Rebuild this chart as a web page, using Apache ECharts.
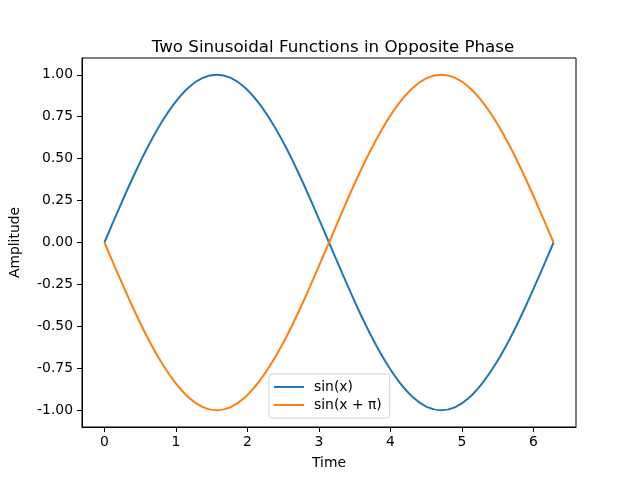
<!DOCTYPE html>
<html lang="en">
<head>
    <meta charset="UTF-8">
    <script src="https://cdn.jsdelivr.net/npm/echarts@6/dist/echarts.min.js"></script>
    <title>Two Sinusoidal Functions in Opposite Phase</title>
    <style>
        html, body { margin: 0; padding: 0; background: #fff; }
        #main { width: 640px; height: 480px; }
    </style>
</head>
<body>
<div id="main"></div>
<script type="text/javascript">
    // values
    var timeValues = [0, 0.196, 0.393, 0.589, 0.785, 0.982, 1.178, 1.374, 1.571, 1.767, 1.963,
        2.160, 2.356, 2.553, 2.749, 2.945, 3.142, 3.338, 3.534, 3.731, 3.927, 4.123, 4.320,
        4.516, 4.712, 4.909, 5.105, 5.301, 5.498, 5.694, 5.890, 6.087, 6.283];
    var sinValues = [0, 0.195, 0.383, 0.556, 0.707, 0.831, 0.924, 0.981, 1.0, 0.981, 0.924,
        0.831, 0.707, 0.556, 0.383, 0.195, 0, -0.195, -0.383, -0.556, -0.707, -0.831, -0.924,
        -0.981, -1.0, -0.981, -0.924, -0.831, -0.707, -0.556, -0.383, -0.195, 0];
    var shiftedValues = [0, -0.195, -0.383, -0.556, -0.707, -0.831, -0.924, -0.981, -1.0, -0.981, -0.924,
        -0.831, -0.707, -0.556, -0.383, -0.195, 0, 0.195, 0.383, 0.556, 0.707, 0.831, 0.924,
        0.981, 1.0, 0.981, 0.924, 0.831, 0.707, 0.556, 0.383, 0.195, 0];
    var xTicks = [0, 1, 2, 3, 4, 5, 6];
    var yTicks = [-1, -0.75, -0.5, -0.25, 0, 0.25, 0.5, 0.75, 1];
    var seriesNames = ['sin(x)', 'sin(x + \u03c0)'];

    function pairs(xs, ys) {
        return xs.map(function (x, i) { return [x, ys[i]]; });
    }

    var font = 'DejaVu Sans';
    var chart = echarts.init(document.getElementById('main'));
    chart.setOption({
        animation: false,
        title: {
            text: 'Two Sinusoidal Functions in Opposite Phase',
            left: 328, top: 34, textAlign: 'center',
            textStyle: { fontFamily: font, fontSize: 16.7, fontWeight: 'normal', color: '#000' }
        },
        legend: {
            data: seriesNames,
            orient: 'vertical',
            left: 269, top: 374,
            padding: [6, 8, 6, 5],
            itemGap: 4,
            itemWidth: 30, itemHeight: 2,
            icon: 'rect',
            backgroundColor: 'rgba(255,255,255,0.8)',
            borderColor: '#d0d0d0', borderWidth: 1, borderRadius: 3,
            textStyle: { fontFamily: font, fontSize: 13.9, color: '#000', padding: [0, 0, 0, 5] }
        },
        grid: {
            left: 80, right: 64, top: 58, bottom: 53,
            show: true, borderColor: '#000', borderWidth: 1, backgroundColor: 'transparent'
        },
        xAxis: {
            type: 'value',
            min: -0.314159, max: 6.597345,
            name: 'Time', nameLocation: 'middle', nameGap: 29,
            nameTextStyle: { fontFamily: font, fontSize: 13.9, color: '#000' },
            axisLine: { show: true, onZero: false, lineStyle: { color: '#000' } },
            axisTick: { show: true, inside: false, length: 5, customValues: xTicks, lineStyle: { color: '#000' } },
            axisLabel: { customValues: xTicks, margin: 8, fontFamily: font, fontSize: 13.9, color: '#000' },
            splitLine: { show: false }
        },
        yAxis: {
            type: 'value',
            min: -1.1, max: 1.1,
            name: 'Amplitude', nameLocation: 'middle', nameGap: 60, nameRotate: 90,
            nameTextStyle: { fontFamily: font, fontSize: 13.9, color: '#000' },
            axisLine: { show: true, onZero: false, lineStyle: { color: '#000' } },
            axisTick: { show: true, inside: false, length: 5, customValues: yTicks, lineStyle: { color: '#000' } },
            axisLabel: {
                customValues: yTicks, margin: 9, fontFamily: font, fontSize: 13.9, color: '#000',
                formatter: function (v) { return v.toFixed(2); }
            },
            splitLine: { show: false }
        },
        series: [
            {
                name: seriesNames[0], type: 'line', data: pairs(timeValues, sinValues),
                showSymbol: false, smooth: 0.3, color: '#1f77b4', lineStyle: { width: 2 }
            },
            {
                name: seriesNames[1], type: 'line', data: pairs(timeValues, shiftedValues),
                showSymbol: false, smooth: 0.3, color: '#ff7f0e', lineStyle: { width: 2 }
            }
        ]
    });
</script>
</body>
</html>
